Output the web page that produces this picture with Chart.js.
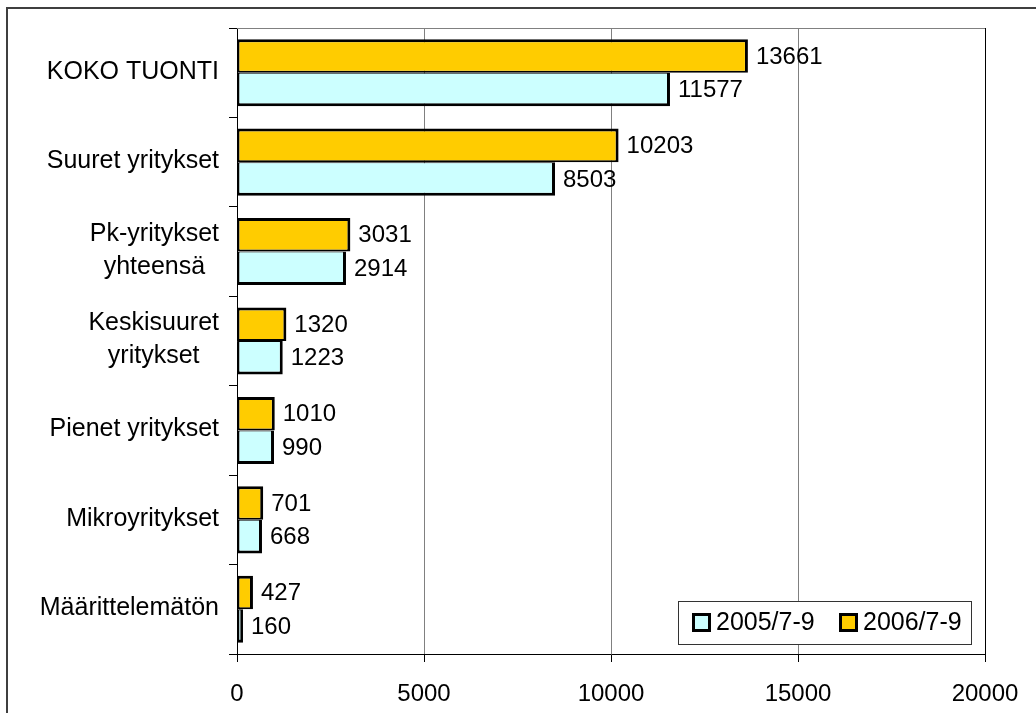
<!DOCTYPE html>
<html>
<head>
<meta charset="utf-8">
<script src="https://cdn.jsdelivr.net/npm/chart.js@4.4.1/dist/chart.umd.min.js"></script>
<style>
  html, body { margin: 0; padding: 0; background: #ffffff; }
  #wrap { width: 1036px; height: 713px; }
</style>
</head>
<body>
<div id="wrap"><canvas id="c" width="1036" height="713"></canvas></div>
<script>
const categories = [
  ["KOKO TUONTI"],
  ["Suuret yritykset"],
  ["Pk-yritykset", "yhteensä"],
  ["Keskisuuret", "yritykset"],
  ["Pienet yritykset"],
  ["Mikroyritykset"],
  ["Määrittelemätön"]
];
const series2006Label = "2006/7-9";
const series2006 = [13661, 10203, 3031, 1320, 1010, 701, 427];
const series2005Label = "2005/7-9";
const series2005 = [11577, 8503, 2914, 1223, 990, 668, 160];
const xTicks = [0, 5000, 10000, 15000, 20000];

const FONT = '"Liberation Sans", Arial, sans-serif';

const decorPlugin = {
  id: 'decor',
  beforeDraw(chart) {
    const ctx = chart.ctx;
    ctx.save();
    ctx.fillStyle = '#ffffff';
    ctx.fillRect(0, 0, chart.width, chart.height);
    ctx.restore();
  },
  afterDraw(chart) {
    const ctx = chart.ctx;
    const a = chart.chartArea;
    ctx.save();
    // outer frame
    ctx.strokeStyle = '#3f3f3f';
    ctx.lineWidth = 2;
    ctx.beginPath();
    ctx.moveTo(7, chart.height);
    ctx.lineTo(7, 8);
    ctx.lineTo(chart.width, 8);
    ctx.stroke();
    // plot area top (gray) and right (black)
    ctx.lineWidth = 1;
    ctx.strokeStyle = '#808080';
    ctx.beginPath();
    ctx.moveTo(a.left, a.top + 0.5);
    ctx.lineTo(a.right, a.top + 0.5);
    ctx.stroke();
    ctx.strokeStyle = '#000000';
    ctx.beginPath();
    ctx.moveTo(Math.round(a.right) + 0.5, a.top);
    ctx.lineTo(Math.round(a.right) + 0.5, a.bottom + 8);
    ctx.stroke();

    // category labels
    const yScale = chart.scales.y;
    ctx.font = '25px ' + FONT;
    ctx.fillStyle = '#000000';
    ctx.textBaseline = 'middle';
    ctx.textAlign = 'center';
    const rightEdge = 219;
    const lineH = 33;
    categories.forEach((lines, i) => {
      const cy = yScale.getPixelForTick(i);
      let w = 0;
      lines.forEach(l => { w = Math.max(w, ctx.measureText(l).width); });
      const cx = rightEdge - w / 2;
      const n = lines.length;
      lines.forEach((l, j) => {
        const y = cy - 1 + (j - (n - 1) / 2) * lineH;
        ctx.fillText(l, cx, y);
      });
    });

    // value labels
    ctx.font = '24px ' + FONT;
    ctx.textAlign = 'left';
    chart.data.datasets.forEach((ds, di) => {
      const meta = chart.getDatasetMeta(di);
      meta.data.forEach((bar, i) => {
        ctx.fillText(String(ds.data[i]), bar.x + 8, bar.y + 1);
      });
    });

    // legend
    ctx.font = '25px ' + FONT;
    const lx = 678, ly = 601, lw = 293, lh = 43;
    ctx.fillStyle = '#ffffff';
    ctx.fillRect(lx, ly, lw, lh);
    ctx.strokeStyle = '#333333';
    ctx.lineWidth = 1;
    ctx.strokeRect(lx + 0.5, ly + 0.5, lw, lh);
    const items = [1, 0].map(di => chart.data.datasets[di]);
    const sy = 613, ss = 19;
    items.forEach((ds, k) => {
      const bx = k === 0 ? 692 : 839;
      ctx.fillStyle = '#000000';
      ctx.fillRect(bx, sy, ss, ss);
      ctx.fillStyle = ds.backgroundColor;
      ctx.fillRect(bx + 3, sy + 3, ss - 6, ss - 6);
      ctx.fillStyle = '#000000';
      ctx.textAlign = 'left';
      ctx.textBaseline = 'middle';
      ctx.fillText(ds.label, bx + 24, sy + ss / 2 + 1);
    });
    ctx.restore();
  }
};

const chart = new Chart(document.getElementById('c'), {
  type: 'bar',
  data: {
    labels: categories.map(c => c.join(' ')),
    datasets: [
      {
        label: series2006Label,
        data: series2006,
        backgroundColor: '#FFCC00',
        borderColor: '#000000',
        borderWidth: { top: 3, right: 3, bottom: 2, left: 2 },
        borderSkipped: false,
        categoryPercentage: 0.75,
        barPercentage: 1.0
      },
      {
        label: series2005Label,
        data: series2005,
        backgroundColor: '#CCFFFF',
        borderColor: '#000000',
        borderWidth: { top: 1, right: 3, bottom: 3, left: 2 },
        borderSkipped: false,
        categoryPercentage: 0.75,
        barPercentage: 1.0
      }
    ]
  },
  options: {
    indexAxis: 'y',
    responsive: false,
    animation: false,
    devicePixelRatio: 1,
    layout: { padding: { left: 0, top: 28, right: 51, bottom: 0 } },
    plugins: {
      legend: { display: false },
      tooltip: { enabled: false }
    },
    scales: {
      x: {
        type: 'linear',
        min: 0,
        max: 20000,
        afterBuildTicks(scale) { scale.ticks = xTicks.map(v => ({ value: v })); },
        afterFit(scale) {
          scale.height = 59;
          scale.paddingLeft = 0;
          scale.paddingRight = 0;
        },
        grid: {
          color: '#808080',
          tickColor: '#000000',
          tickLength: 8,
          drawOnChartArea: true
        },
        border: { display: true, color: '#000000', width: 1 },
        ticks: {
          font: { family: FONT, size: 24 },
          color: '#000000',
          padding: 18,
          maxRotation: 0,
          autoSkip: false,
          callback: (v) => String(v)
        }
      },
      y: {
        type: 'category',
        afterFit(scale) {
          scale.width = 237;
          scale.paddingTop = 0;
          scale.paddingBottom = 0;
        },
        grid: {
          offset: true,
          drawOnChartArea: false,
          drawTicks: true,
          tickLength: 8,
          color: '#000000'
        },
        border: { display: true, color: '#000000', width: 1 },
        ticks: { display: false }
      }
    }
  },
  plugins: [decorPlugin]
});
</script>
</body>
</html>
